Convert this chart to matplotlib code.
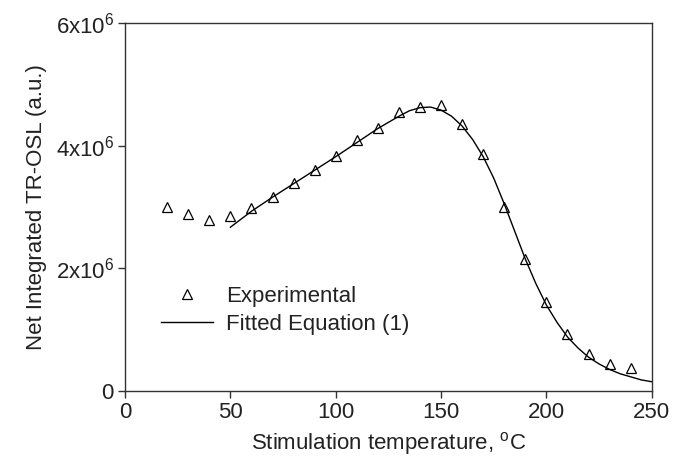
import matplotlib
matplotlib.use('Agg')
import matplotlib.pyplot as plt
from matplotlib.ticker import FuncFormatter

plt.rcParams['font.family'] = ['Liberation Sans', 'DejaVu Sans']
plt.rcParams['mathtext.fontset'] = 'custom'
plt.rcParams['mathtext.rm'] = 'Liberation Sans'
plt.rcParams['mathtext.it'] = 'Liberation Sans'

# experimental points
temp_exp = [20, 30, 40, 50, 60, 70, 80, 90, 100, 110, 120, 130, 140, 150,
            160, 170, 180, 190, 200, 210, 220, 230, 240]
sig_exp = [3.00e6, 2.89e6, 2.79e6, 2.85e6, 2.98e6, 3.16e6, 3.39e6, 3.60e6,
           3.83e6, 4.09e6, 4.29e6, 4.55e6, 4.63e6, 4.66e6, 4.35e6, 3.86e6,
           3.00e6, 2.15e6, 1.45e6, 0.93e6, 0.60e6, 0.44e6, 0.375e6]

# fitted curve
temp_fit = [50, 60, 70, 80, 90, 100, 110, 120, 130, 135, 140, 145, 150, 155,
            160, 165, 170, 175, 180, 185, 190, 195, 200, 205, 210, 215, 220,
            225, 230, 235, 240, 245, 250]
sig_fit = [2.67e6, 2.93e6, 3.16e6, 3.38e6, 3.60e6, 3.82e6, 4.05e6, 4.28e6,
           4.48e6, 4.57e6, 4.62e6, 4.63e6, 4.58e6, 4.48e6, 4.32e6, 4.10e6,
           3.82e6, 3.47e6, 3.05e6, 2.60e6, 2.15e6, 1.75e6, 1.40e6, 1.12e6,
           0.88e6, 0.70e6, 0.55e6, 0.44e6, 0.35e6, 0.28e6, 0.23e6, 0.18e6,
           0.15e6]

txt = '#222222'
fs = 16

fig = plt.figure(figsize=(6.74, 4.61), dpi=100)
ax = fig.add_axes([0.1855, 0.152, 0.7815, 0.798])

ax.plot(temp_exp, sig_exp, linestyle='none', marker='^', markersize=7,
        markerfacecolor='white', markeredgecolor='black', markeredgewidth=0.9,
        label='Experimental')
ax.plot(temp_fit, sig_fit, color='black', linewidth=1.0,
        label='Fitted Equation (1)')

ax.set_xlim(0, 250)
ax.set_ylim(0, 6e6)
ax.set_xticks([0, 50, 100, 150, 200, 250])
ax.set_yticks([0, 2e6, 4e6, 6e6])

def yfmt(v, pos):
    if v == 0:
        return '0'
    return r'%dx10$^{6}$' % round(v / 1e6)

ax.yaxis.set_major_formatter(FuncFormatter(yfmt))
ax.tick_params(direction='out', length=5, width=1, labelsize=fs,
               colors='#333333', labelcolor=txt, pad=3)

for s in ax.spines.values():
    s.set_color('#333333')
    s.set_linewidth(1.0)

ax.set_xlabel(r'Stimulation temperature, $^{\rm o}$C', fontsize=fs, color=txt,
              labelpad=5)
ax.set_ylabel('Net Integrated TR-OSL (a.u.)', fontsize=fs, color=txt,
              labelpad=6)

leg = ax.legend(loc='lower left', bbox_to_anchor=(0.030, 0.098), frameon=False,
                fontsize=fs, handlelength=2.35, handletextpad=0.6,
                labelspacing=0.3, labelcolor=txt)

fig.savefig('out.png', dpi=100)
